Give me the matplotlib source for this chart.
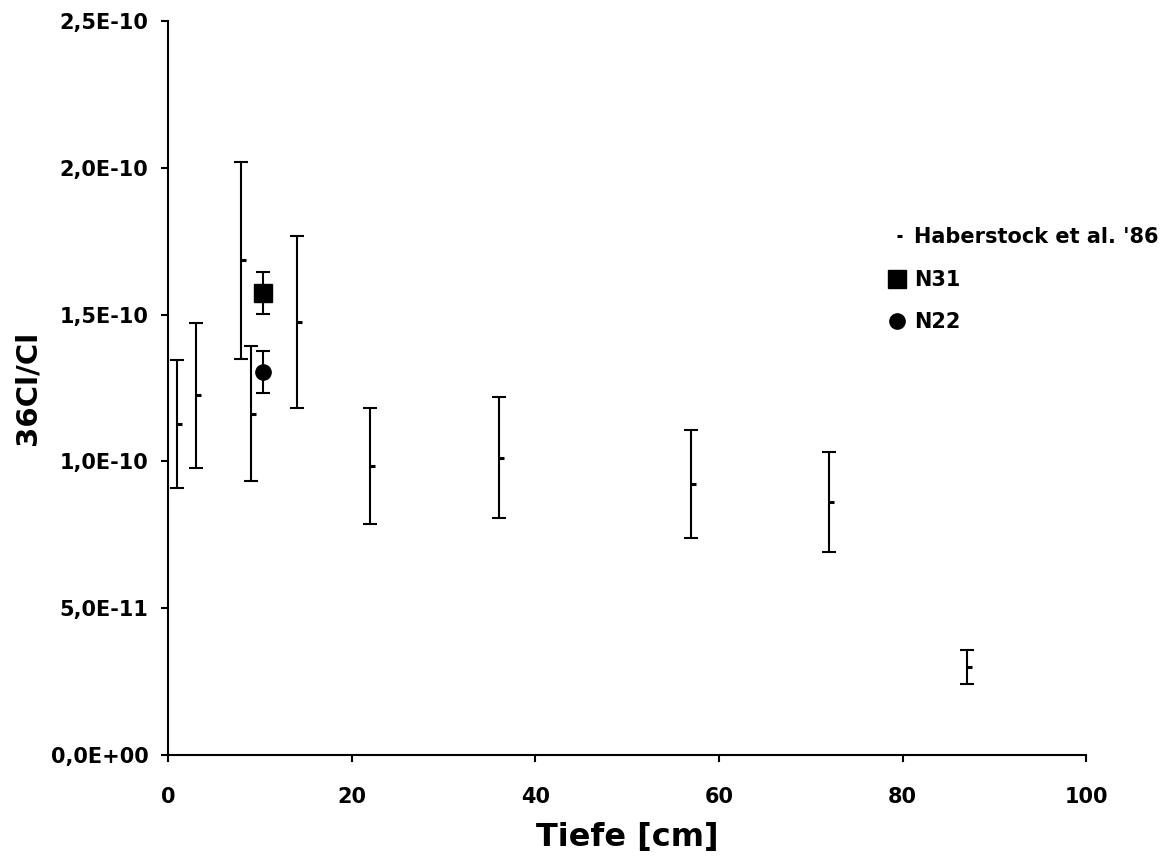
import matplotlib
matplotlib.use("Agg")
import matplotlib.pyplot as plt
from matplotlib.path import Path
from matplotlib.ticker import FuncFormatter, MultipleLocator

plt.rcParams['font.family'] = ['DejaVu Sans']
plt.rcParams['font.weight'] = 'bold'

# Haberstock et al. '86 profile: depth [cm], 36Cl/Cl ratio and its uncertainty
hab_depth = [1, 3, 8, 9, 14, 22, 36, 57, 72, 87]
hab_ratio = [1.127e-10, 1.225e-10, 1.685e-10, 1.162e-10, 1.475e-10,
             0.984e-10, 1.013e-10, 0.923e-10, 0.862e-10, 0.301e-10]
hab_err = [0.217e-10, 0.248e-10, 0.336e-10, 0.230e-10, 0.293e-10,
           0.197e-10, 0.205e-10, 0.185e-10, 0.170e-10, 0.058e-10]

# Own samples
n31_depth = [10.4]
n31_ratio = [1.573e-10]
n31_err = [0.071e-10]

n22_depth = [10.4]
n22_ratio = [1.304e-10]
n22_err = [0.071e-10]

x_ticks = [0, 20, 40, 60, 80, 100]

fig = plt.figure(figsize=(11.73, 8.58), dpi=100)
ax = fig.add_axes([0.1432, 0.12, 0.7828, 0.8555])

# right-pointing short dash used as the marker of the Haberstock values
half_dash = Path([(0, 0), (1, 0)], [Path.MOVETO, Path.LINETO])

ebar_kw = dict(fmt='none', ecolor='black', elinewidth=1.5, capsize=5, capthick=1.5)
ax.errorbar(hab_depth, hab_ratio, yerr=hab_err, **ebar_kw)
ax.errorbar(n31_depth, n31_ratio, yerr=n31_err, **ebar_kw)
ax.errorbar(n22_depth, n22_ratio, yerr=n22_err, **ebar_kw)

ax.plot(hab_depth, hab_ratio, linestyle='none', marker=half_dash, markersize=7,
        markeredgewidth=2.2, color='black', label="Haberstock et al. '86")
ax.plot(n31_depth, n31_ratio, linestyle='none', marker='s', markersize=13,
        color='black', label='N31')
ax.plot(n22_depth, n22_ratio, linestyle='none', marker='o', markersize=11,
        color='black', label='N22')

ax.set_xlim(0, 100)
ax.set_ylim(0, 2.5e-10)
ax.set_xticks(x_ticks)
ax.yaxis.set_major_locator(MultipleLocator(0.5e-10))
ax.yaxis.set_major_formatter(FuncFormatter(lambda v, _: f"{v:.1E}".replace('.', ',')))
ax.xaxis.get_offset_text().set_visible(False)
ax.yaxis.get_offset_text().set_visible(False)

for side in ('top', 'right'):
    ax.spines[side].set_visible(False)
for side in ('left', 'bottom'):
    ax.spines[side].set_linewidth(1.5)

ax.tick_params(axis='both', direction='out', length=5, width=1.5, labelsize=15)
ax.tick_params(axis='x', pad=18)
ax.tick_params(axis='y', pad=9)

ax.set_xlabel('Tiefe [cm]', fontsize=23, fontweight='bold', labelpad=11)
ax.set_ylabel('36Cl/Cl', fontsize=21, fontweight='bold', labelpad=7)

fig.legend(loc='upper left', bbox_to_anchor=(0.757, 0.735), frameon=False,
           fontsize=15, handlelength=0.85, handletextpad=0.4, labelspacing=1.08,
           borderaxespad=0, borderpad=0)

fig.savefig('out.png', dpi=100)
